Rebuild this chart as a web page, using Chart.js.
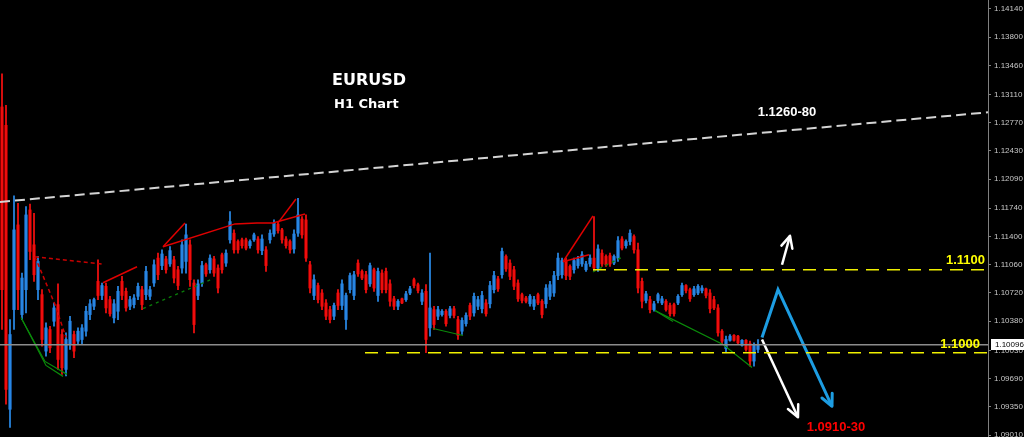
<!DOCTYPE html>
<html>
<head>
<meta charset="utf-8">
<title>EURUSD H1 Chart</title>
<script src="https://cdn.jsdelivr.net/npm/chart.js@4.4.1/dist/chart.umd.min.js"></script>
<style>
  html, body { margin: 0; padding: 0; background: #000; }
  #wrap { width: 1024px; height: 437px; position: relative; }
</style>
</head>
<body>
<div id="wrap"><canvas id="chart"></canvas></div>
<script>
// H1 candles (oldest first)
const opens = [
  1.1296,1.1274,1.0932,1.1052,1.1154,1.1046,1.1076,1.1172,1.1130,1.1076,
  1.1070,1.1002,1.1028,1.1038,1.1058,1.1022,1.0980,1.1010,1.1022,1.1014,
  1.1016,1.1026,1.1046,1.1056,1.1086,1.1069,1.1080,1.1064,1.1042,1.1050,
  1.1086,1.1074,1.1056,1.1058,1.1068,1.1076,1.1070,1.1068,1.1084,1.1114,
  1.1105,1.1113,1.1107,1.1112,1.1100,1.1102,1.1110,1.1130,1.1084,1.1069,
  1.1084,1.1106,1.1100,1.1113,1.1102,1.1118,1.1108,1.1136,1.1144,1.1134,
  1.1136,1.1136,1.1129,1.1136,1.1137,1.1123,1.1124,1.1136,1.1143,1.1155,
  1.1148,1.1137,1.1134,1.1125,1.1144,1.1161,1.1160,1.1106,1.1069,1.1081,
  1.1072,1.1060,1.1052,1.1044,1.1072,1.1057,1.1040,1.1076,1.1069,1.1108,
  1.1098,1.1094,1.1083,1.1100,1.1069,1.1096,1.1098,1.1083,1.1065,1.1056,
  1.1065,1.1064,1.1072,1.1088,1.1082,1.1062,1.1074,1.1030,1.1052,1.1044,
  1.1046,1.1050,1.1045,1.1053,1.1040,1.1026,1.1035,1.1057,1.1048,1.1056,
  1.1053,1.1060,1.1059,1.1076,1.1089,1.1094,1.1116,1.1108,1.1100,1.1084,
  1.1070,1.1066,1.1059,1.1056,1.1070,1.1062,1.1059,1.1068,1.1072,1.1093,
  1.1094,1.1111,1.1104,1.1100,1.1105,1.1107,1.1100,1.1107,1.1114,1.1102,
  1.1120,1.1116,1.1117,1.1108,1.1114,1.1137,1.1129,1.1134,1.1140,1.1124,
  1.1086,1.1063,1.1064,1.1052,1.1063,1.1060,1.1062,1.1057,1.1058,1.1060,
  1.1070,1.1081,1.1076,1.1070,1.1072,1.1075,1.1077,1.1072,1.1064,1.1054,
  1.1026,1.1005,1.1015,1.1021,1.1020,1.1009,1.1015,1.1011,1.0990,1.1004
];
const highs = [
  1.1336,1.1298,1.1040,1.1189,1.1180,1.1096,1.1176,1.1179,1.1168,1.1116,
  1.1076,1.1036,1.1032,1.1060,1.1083,1.1028,1.1024,1.1044,1.1026,1.1030,
  1.1034,1.1056,1.1064,1.1066,1.1112,1.1084,1.1084,1.1068,1.1064,1.1080,
  1.1092,1.1078,1.1068,1.1070,1.1084,1.1080,1.1104,1.1080,1.1112,1.1120,
  1.1124,1.1116,1.1128,1.1116,1.1104,1.1136,1.1155,1.1136,1.1088,1.1088,
  1.1110,1.1108,1.1118,1.1116,1.1106,1.1120,1.1124,1.1170,1.1148,1.1136,
  1.1138,1.1138,1.1136,1.1144,1.1140,1.1142,1.1128,1.1148,1.1160,1.1158,
  1.1150,1.1140,1.1136,1.1148,1.1186,1.1164,1.1166,1.1110,1.1094,1.1084,
  1.1076,1.1064,1.1056,1.1060,1.1076,1.1088,1.1072,1.1096,1.1098,1.1112,
  1.1100,1.1098,1.1108,1.1102,1.1102,1.1100,1.1102,1.1088,1.1068,1.1064,
  1.1066,1.1074,1.1080,1.1090,1.1084,1.1076,1.1082,1.1120,1.1056,1.1056,
  1.1052,1.1052,1.1056,1.1056,1.1044,1.1042,1.1048,1.1060,1.1072,1.1068,
  1.1074,1.1064,1.1086,1.1098,1.1092,1.1126,1.1118,1.1112,1.1104,1.1088,
  1.1072,1.1068,1.1070,1.1068,1.1072,1.1064,1.1082,1.1086,1.1098,1.1120,
  1.1114,1.1114,1.1106,1.1114,1.1116,1.1122,1.1110,1.1118,1.1164,1.1130,
  1.1124,1.1118,1.1120,1.1118,1.1140,1.1140,1.1136,1.1148,1.1142,1.1132,
  1.1090,1.1074,1.1068,1.1062,1.1072,1.1068,1.1064,1.1060,1.1060,1.1070,
  1.1084,1.1082,1.1078,1.1080,1.1082,1.1081,1.1078,1.1076,1.1068,1.1058,
  1.1028,1.1020,1.1022,1.1022,1.1021,1.1016,1.1016,1.1014,1.1012,1.1016
];
const lows = [
  1.1028,1.0938,1.0910,1.1028,1.1052,1.1040,1.1048,1.1112,1.1086,1.1064,
  1.1008,1.0996,1.1000,1.1032,1.0980,1.0974,1.0972,1.1004,1.0994,1.1010,
  1.1010,1.1020,1.1040,1.1052,1.1064,1.1064,1.1048,1.1044,1.1036,1.1040,
  1.1064,1.1050,1.1052,1.1054,1.1064,1.1052,1.1064,1.1064,1.1080,1.1088,
  1.1100,1.1096,1.1104,1.1084,1.1076,1.1096,1.1096,1.1080,1.1024,1.1064,
  1.1080,1.1092,1.1096,1.1092,1.1072,1.1096,1.1104,1.1132,1.1120,1.1120,
  1.1126,1.1124,1.1126,1.1134,1.1120,1.1118,1.1098,1.1132,1.1140,1.1144,
  1.1132,1.1126,1.1120,1.1120,1.1140,1.1138,1.1110,1.1072,1.1064,1.1060,
  1.1052,1.1040,1.1036,1.1040,1.1052,1.1052,1.1028,1.1072,1.1064,1.1092,
  1.1088,1.1072,1.1080,1.1074,1.1062,1.1072,1.1072,1.1056,1.1052,1.1052,
  1.1059,1.1062,1.1070,1.1078,1.1072,1.1058,1.1000,1.1020,1.1028,1.1040,
  1.1044,1.1032,1.1042,1.1042,1.1016,1.1022,1.1032,1.1040,1.1044,1.1052,
  1.1048,1.1044,1.1054,1.1072,1.1074,1.1090,1.1098,1.1088,1.1076,1.1062,
  1.1060,1.1060,1.1056,1.1052,1.1058,1.1042,1.1054,1.1064,1.1068,1.1088,
  1.1090,1.1088,1.1088,1.1096,1.1102,1.1104,1.1098,1.1104,1.1098,1.1098,
  1.1104,1.1104,1.1104,1.1106,1.1110,1.1124,1.1126,1.1130,1.1120,1.1072,
  1.1054,1.1060,1.1048,1.1050,1.1060,1.1058,1.1050,1.1044,1.1044,1.1058,
  1.1068,1.1072,1.1062,1.1068,1.1070,1.1072,1.1066,1.1048,1.1052,1.1020,
  1.1010,1.1000,1.1014,1.1014,1.1010,1.1008,1.1002,1.0984,1.0984,1.1000
];
const closes = [
  1.1076,1.0956,1.1022,1.1148,1.1076,1.1090,1.1166,1.1122,1.1094,1.1110,
  1.1016,1.1030,1.1006,1.1054,1.0992,1.0982,1.1016,1.1038,1.1002,1.1026,
  1.1030,1.1050,1.1059,1.1064,1.1069,1.1081,1.1054,1.1047,1.1059,1.1074,
  1.1069,1.1054,1.1064,1.1066,1.1080,1.1058,1.1098,1.1076,1.1106,1.1094,
  1.1119,1.1100,1.1123,1.1090,1.1081,1.1130,1.1142,1.1088,1.1034,1.1083,
  1.1105,1.1095,1.1114,1.1096,1.1078,1.1100,1.1120,1.1158,1.1124,1.1124,
  1.1129,1.1126,1.1134,1.1142,1.1124,1.1137,1.1105,1.1144,1.1156,1.1147,
  1.1136,1.1129,1.1124,1.1143,1.1166,1.1142,1.1114,1.1078,1.1088,1.1064,
  1.1056,1.1044,1.1040,1.1057,1.1057,1.1083,1.1069,1.1093,1.1094,1.1095,
  1.1090,1.1076,1.1105,1.1078,1.1098,1.1076,1.1076,1.1062,1.1056,1.1062,
  1.1060,1.1071,1.1077,1.1081,1.1075,1.1072,1.1016,1.1054,1.1034,1.1052,
  1.1050,1.1035,1.1053,1.1045,1.1021,1.1039,1.1045,1.1044,1.1068,1.1064,
  1.1069,1.1047,1.1081,1.1093,1.1077,1.1122,1.1101,1.1092,1.1080,1.1065,
  1.1063,1.1062,1.1068,1.1064,1.1060,1.1046,1.1078,1.1082,1.1093,1.1114,
  1.1111,1.1093,1.1092,1.1111,1.1113,1.1118,1.1107,1.1114,1.1102,1.1125,
  1.1107,1.1106,1.1107,1.1116,1.1135,1.1126,1.1134,1.1144,1.1124,1.1078,
  1.1062,1.1071,1.1052,1.1059,1.1070,1.1065,1.1052,1.1047,1.1047,1.1068,
  1.1081,1.1075,1.1065,1.1077,1.1080,1.1078,1.1069,1.1053,1.1054,1.1024,
  1.1014,1.1016,1.1020,1.1015,1.1012,1.1015,1.1004,1.0990,1.1009,1.1010
];

// price scale
const priceTicks = [1.14140, 1.13800, 1.13460, 1.13110, 1.12770, 1.12430, 1.12090, 1.11740,
  1.11400, 1.11060, 1.10720, 1.10380, 1.10030, 1.09690, 1.09350, 1.09010];
const yMin = 1.08986, yMax = 1.14248;
const xMin = -0.5, xMax = 246.5;   // bar index range incl. empty space on the right
const lastPrice = 1.10096;

// levels drawn on the chart
const resistance = 1.1100, resistanceFrom = 147.75;
const support = 1.1000, supportFrom = 90.75;
const upperTrend = [[-0.5, 1.11816], [246.5, 1.12896]];

// pattern lines [barIndex, price]
const redZigzags = [
  [[25.25, 1.10844], [33.75, 1.11036]],
  [[40.25, 1.11276], [45.75, 1.11564]],
  [[40.25, 1.11276], [58.25, 1.11552], [63.75, 1.11564], [67.75, 1.11564], [75.75, 1.11672]],
  [[69, 1.11564], [73.5, 1.11852]],
  [[140.25, 1.11096], [147.75, 1.11648]],
  [[140.25, 1.11096], [146.75, 1.11180]]
];
const redDotted = [
  [[8.25, 1.11156], [25, 1.11068]],
  [[8.25, 1.11156], [13.25, 1.10580], [16, 1.10184]]
];
const greenLines = [
  [[4.75, 1.10424], [11, 1.09848], [15.25, 1.09716]],
  [[5, 1.10400], [10.75, 1.09896], [16.25, 1.09740]],
  [[107.75, 1.10292], [115.25, 1.10208]],
  [[163.25, 1.10508], [180.25, 1.10100], [187.5, 1.09824]],
  [[163.25, 1.10508], [167.75, 1.10376]]
];
const greenDotted = [
  [[35.25, 1.10532], [52.75, 1.10892]],
  [[147.75, 1.10976], [155.25, 1.11156]]
];

// scenario arrows
const blueScenario = [[190, 1.10184], [194, 1.10760], [207.5, 1.09356]];
const whiteDown = [[190, 1.10160], [199, 1.09224]];
const whiteUp = [[195, 1.11060], [197, 1.11408]];

const bars = closes.map((c, i) => i);
const isUp = i => closes[i] >= opens[i];

function lineSet(points, color, width, dash, extra) {
  return Object.assign({
    type: 'line',
    data: points.map(p => ({ x: p[0], y: p[1] })),
    borderColor: color,
    borderWidth: width,
    borderDash: dash || [],
    pointRadius: 0,
    fill: false,
    tension: 0,
    order: -1
  }, extra || {});
}

const datasets = [
  {
    type: 'bar',
    label: 'wick',
    data: bars.map(i => ({ x: i, y: [lows[i], highs[i]] })),
    backgroundColor: bars.map(i => isUp(i) ? '#2b8ff0' : '#ff1010'),
    barThickness: 1,
    grouped: false,
    order: 1
  },
  {
    type: 'bar',
    label: 'body',
    data: bars.map(i => ({ x: i, y: [opens[i], closes[i]] })),
    backgroundColor: bars.map(i => isUp(i) ? '#1c5fa8' : '#a30000'),
    barThickness: 3,
    minBarLength: 1,
    grouped: false,
    order: 2
  },
  lineSet([[xMin, lastPrice], [xMax, lastPrice]], '#8c8c8c', 1.5),
  lineSet(upperTrend, '#d4d4d4', 2, [10, 5]),
  lineSet([[resistanceFrom, resistance], [xMax, resistance]], '#f0f000', 1.5, [13, 8]),
  lineSet([[supportFrom, support], [xMax, support]], '#f0f000', 1.5, [13, 8]),
  ...redZigzags.map(l => lineSet(l, '#e00000', 1.5)),
  ...redDotted.map(l => lineSet(l, '#c80000', 1.5, [4, 3])),
  ...greenLines.map(l => lineSet(l, '#0a8a0a', 1.2)),
  ...greenDotted.map(l => lineSet(l, '#0a7a0a', 1.5, [3, 4])),
  lineSet(blueScenario, '#1d9de2', 3, [], { arrowHead: true }),
  lineSet(whiteDown, '#ffffff', 2.5, [], { arrowHead: true }),
  lineSet(whiteUp, '#ffffff', 2.5, [], { arrowHead: true })
];

// text notes placed in bar/price units
const notes = [
  { text: 'EURUSD', x: 82.5, y: 1.1322, font: 'bold 16px "DejaVu Sans"', color: '#ffffff', align: 'left', base: 'alphabetic' },
  { text: 'H1 Chart', x: 83, y: 1.12944, font: 'bold 13px "DejaVu Sans"', color: '#ffffff', align: 'left', base: 'alphabetic' },
  { text: '1.1260-80', x: 196.25, y: 1.12896, font: 'bold 13px "Liberation Sans"', color: '#ffffff', align: 'center', base: 'middle' },
  { text: '1.1100', x: 245.75, y: 1.11108, font: 'bold 13px "Liberation Sans"', color: '#ffff00', align: 'right', base: 'middle' },
  { text: '1.1000', x: 244.5, y: 1.10100, font: 'bold 13px "Liberation Sans"', color: '#ffff00', align: 'right', base: 'middle' },
  { text: '1.0910-30', x: 208.5, y: 1.09104, font: 'bold 13px "Liberation Sans"', color: '#ff0000', align: 'center', base: 'middle' }
];

const overlay = {
  id: 'overlay',
  afterDatasetsDraw(chart) {
    const { ctx, scales: { x, y } } = chart;
    // arrow heads at the end of flagged lines
    chart.data.datasets.forEach((ds, di) => {
      if (!ds.arrowHead) return;
      const pts = chart.getDatasetMeta(di).data;
      const a = pts[pts.length - 2], b = pts[pts.length - 1];
      const ang = Math.atan2(b.y - a.y, b.x - a.x);
      ctx.save();
      ctx.strokeStyle = ds.borderColor;
      ctx.lineWidth = ds.borderWidth;
      ctx.lineCap = 'round';
      ctx.beginPath();
      [-1, 1].forEach(s => {
        ctx.moveTo(b.x, b.y);
        ctx.lineTo(b.x - 13 * Math.cos(ang + s * 0.45), b.y - 13 * Math.sin(ang + s * 0.45));
      });
      ctx.stroke();
      ctx.restore();
    });
    ctx.save();
    notes.forEach(n => {
      ctx.font = n.font;
      ctx.fillStyle = n.color;
      ctx.textAlign = n.align;
      ctx.textBaseline = n.base;
      ctx.fillText(n.text, x.getPixelForValue(n.x), y.getPixelForValue(n.y));
    });
    ctx.restore();
  },
  afterDraw(chart) {
    // current price tag on the axis
    const { ctx } = chart;
    const y = chart.scales.y;
    const py = Math.round(y.getPixelForValue(lastPrice));
    ctx.save();
    ctx.fillStyle = '#ffffff';
    ctx.fillRect(y.left + 3, py - 6, y.right - y.left - 3, 11);
    ctx.fillStyle = '#000000';
    ctx.font = '8px "Liberation Sans"';
    ctx.textAlign = 'left';
    ctx.textBaseline = 'middle';
    ctx.fillText(lastPrice.toFixed(5), y.left + 7, py);
    ctx.restore();
  }
};

new Chart(document.getElementById('chart'), {
  type: 'bar',
  data: { datasets },
  options: {
    responsive: true,
    maintainAspectRatio: false,
    animation: false,
    devicePixelRatio: 1,
    layout: { padding: 0 },
    plugins: { legend: { display: false }, tooltip: { enabled: false } },
    scales: {
      x: { type: 'linear', min: xMin, max: xMax, offset: false, display: false },
      y: {
        position: 'right',
        min: yMin,
        max: yMax,
        afterBuildTicks: scale => { scale.ticks = priceTicks.map(v => ({ value: v })); },
        afterFit: scale => { scale.width = 36; scale.paddingTop = 0; scale.paddingBottom = 0; },
        grid: { display: true, drawOnChartArea: false, drawTicks: true, tickLength: 3, color: '#808080' },
        border: { display: true, color: '#808080' },
        ticks: {
          color: '#c8c8c8',
          font: { family: 'Liberation Sans', size: 8 },
          padding: 3,
          autoSkip: false,
          callback: v => Number(v).toFixed(5)
        }
      }
    }
  },
  plugins: [overlay]
});
</script>
</body>
</html>
